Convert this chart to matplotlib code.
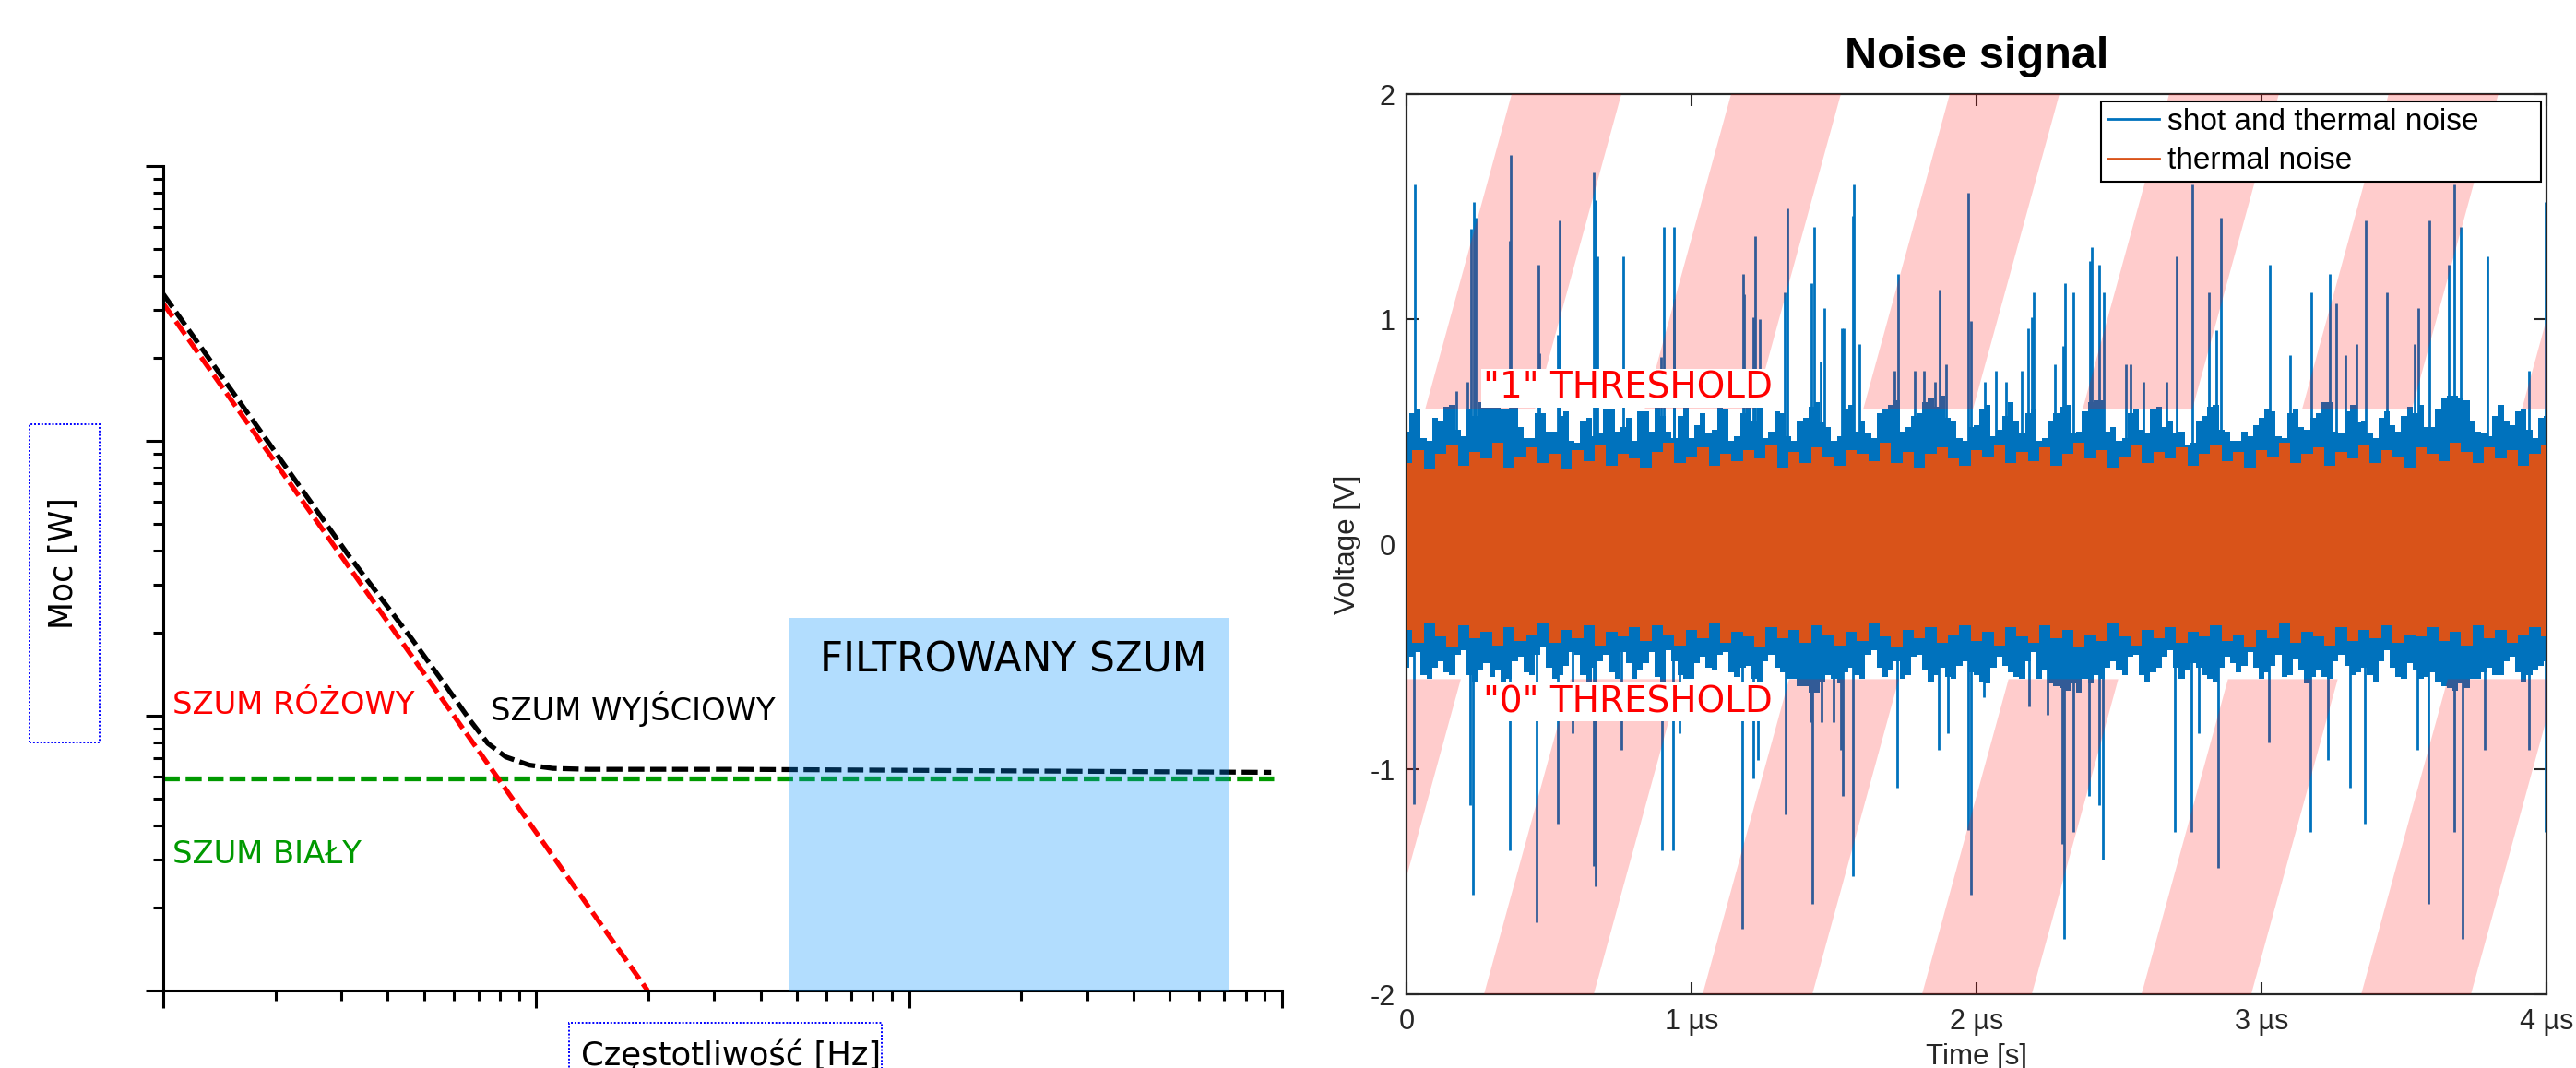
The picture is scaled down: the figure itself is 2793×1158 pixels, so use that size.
import numpy as np
import matplotlib
matplotlib.use('Agg')
import matplotlib.pyplot as plt
from matplotlib.lines import Line2D
from matplotlib.patches import Rectangle, Polygon

# ---------- left chart: noise spectrum sketch (log-log, no units) ----------
pink_f = [1, 19.9]
pink_p = [316, 1]
white_f = [1, 950]
white_p = [5.92, 5.92]
out_f = [1, 3.11, 4.63, 5.78, 6.66, 7.42, 8.29, 9.59, 11.1, 13.8, 34.8, 935]
out_p = [342, 39.0, 19.1, 12.6, 9.59, 7.93, 7.08, 6.61, 6.43, 6.38, 6.38, 6.22]
filter_band = [47.5, 723]
filter_top = 22.7

# ---------- right chart: noise signal (time in us, voltage in V) ----------
# envelope of the dense blue trace, one value every 0.02 us
blue_step = 0.02
blue_hi = [0.50, 0.58, 0.60, 0.47, 0.46, 0.56, 0.55, 0.61, 0.62, 0.51,
           0.48, 0.60, 0.57, 0.63, 0.61, 0.64, 0.63, 0.60, 0.60, 0.62,
           0.52, 0.47, 0.47, 0.58, 0.58, 0.50, 0.50, 0.57, 0.59, 0.46,
           0.45, 0.55, 0.56, 0.48, 0.49, 0.60, 0.60, 0.50, 0.52, 0.56,
           0.46, 0.59, 0.59, 0.50, 0.62, 0.57, 0.50, 0.47, 0.57, 0.61,
           0.47, 0.53, 0.58, 0.49, 0.51, 0.62, 0.60, 0.46, 0.48, 0.58,
           0.61, 0.55, 0.62, 0.47, 0.50, 0.59, 0.58, 0.48, 0.46, 0.55,
           0.56, 0.61, 0.63, 0.54, 0.52, 0.46, 0.48, 0.60, 0.62, 0.50,
           0.55, 0.49, 0.47, 0.58, 0.60, 0.62, 0.64, 0.50, 0.52, 0.57,
           0.58, 0.63, 0.65, 0.61, 0.66, 0.56, 0.55, 0.47, 0.46, 0.52,
           0.53, 0.60, 0.62, 0.48, 0.51, 0.57, 0.63, 0.55, 0.49, 0.58,
           0.60, 0.46, 0.47, 0.55, 0.58, 0.61, 0.62, 0.49, 0.50, 0.59,
           0.63, 0.64, 0.64, 0.50, 0.52, 0.46, 0.47, 0.58, 0.60, 0.51,
           0.49, 0.60, 0.61, 0.52, 0.55, 0.49, 0.50, 0.44, 0.45, 0.55,
           0.57, 0.61, 0.62, 0.51, 0.50, 0.46, 0.46, 0.50, 0.48, 0.53,
           0.56, 0.60, 0.59, 0.48, 0.47, 0.58, 0.60, 0.52, 0.51, 0.56,
           0.58, 0.63, 0.63, 0.50, 0.49, 0.59, 0.62, 0.54, 0.55, 0.49,
           0.47, 0.56, 0.59, 0.53, 0.50, 0.57, 0.61, 0.58, 0.62, 0.52,
           0.52, 0.60, 0.65, 0.66, 0.66, 0.65, 0.64, 0.55, 0.50, 0.49,
           0.48, 0.57, 0.62, 0.55, 0.53, 0.59, 0.60, 0.51, 0.47, 0.56,
           0.57]
blue_lo = [-0.55, -0.50, -0.48, -0.58, -0.60, -0.55, -0.52, -0.57, -0.58, -0.49,
           -0.47, -0.58, -0.61, -0.56, -0.53, -0.59, -0.56, -0.61, -0.60, -0.52,
           -0.50, -0.57, -0.58, -0.49, -0.46, -0.55, -0.60, -0.58, -0.54, -0.48,
           -0.49, -0.58, -0.61, -0.55, -0.52, -0.49, -0.57, -0.60, -0.48, -0.53,
           -0.60, -0.56, -0.53, -0.48, -0.59, -0.61, -0.47, -0.52, -0.58, -0.60,
           -0.60, -0.53, -0.50, -0.55, -0.56, -0.49, -0.48, -0.57, -0.59, -0.55,
           -0.54, -0.60, -0.61, -0.52, -0.49, -0.55, -0.57, -0.60, -0.60, -0.63,
           -0.63, -0.66, -0.66, -0.61, -0.58, -0.60, -0.62, -0.57, -0.55, -0.58,
           -0.60, -0.49, -0.47, -0.55, -0.59, -0.56, -0.52, -0.60, -0.58, -0.50,
           -0.49, -0.56, -0.61, -0.58, -0.55, -0.59, -0.60, -0.54, -0.52, -0.57,
           -0.58, -0.61, -0.62, -0.55, -0.50, -0.54, -0.57, -0.59, -0.60, -0.52,
           -0.48, -0.60, -0.56, -0.62, -0.63, -0.64, -0.65, -0.62, -0.66, -0.60,
           -0.62, -0.58, -0.60, -0.55, -0.52, -0.56, -0.58, -0.50, -0.49, -0.58,
           -0.61, -0.57, -0.55, -0.50, -0.47, -0.55, -0.60, -0.56, -0.53, -0.55,
           -0.58, -0.60, -0.61, -0.55, -0.50, -0.53, -0.57, -0.54, -0.48, -0.55,
           -0.60, -0.57, -0.54, -0.49, -0.59, -0.58, -0.51, -0.56, -0.62, -0.59,
           -0.56, -0.59, -0.60, -0.52, -0.49, -0.54, -0.58, -0.57, -0.55, -0.58,
           -0.61, -0.52, -0.47, -0.55, -0.59, -0.60, -0.53, -0.56, -0.60, -0.59,
           -0.57, -0.61, -0.63, -0.64, -0.65, -0.62, -0.64, -0.60, -0.60, -0.57,
           -0.55, -0.58, -0.58, -0.52, -0.50, -0.57, -0.61, -0.58, -0.56, -0.54,
           -0.52]
# envelope of the orange trace, one value every 0.04 us
orange_step = 0.04
orange_hi = [0.36, 0.42, 0.33, 0.40, 0.44, 0.35, 0.41, 0.38, 0.45, 0.34, 0.39,
             0.43, 0.36, 0.40, 0.33, 0.42, 0.37, 0.44, 0.35, 0.40, 0.38,
             0.34, 0.41, 0.45, 0.36, 0.39, 0.43, 0.35, 0.40, 0.37, 0.42,
             0.38, 0.44, 0.34, 0.41, 0.36, 0.43, 0.39, 0.35, 0.42, 0.40,
             0.37, 0.45, 0.36, 0.41, 0.34, 0.40, 0.43, 0.38, 0.35, 0.42,
             0.39, 0.44, 0.36, 0.41, 0.37, 0.43, 0.35, 0.40, 0.45, 0.38,
             0.42, 0.34, 0.39, 0.44, 0.36, 0.41, 0.38, 0.43, 0.35, 0.40,
             0.44, 0.37, 0.41, 0.34, 0.42, 0.39, 0.45, 0.36, 0.40, 0.43,
             0.35, 0.41, 0.38, 0.44, 0.36, 0.42, 0.39, 0.34, 0.43, 0.40,
             0.37, 0.45, 0.41, 0.36, 0.43, 0.38, 0.42, 0.35, 0.40, 0.44]
orange_lo = [-0.38, -0.44, -0.35, -0.41, -0.46, -0.36, -0.42, -0.39, -0.45, -0.37, -0.43,
             -0.40, -0.35, -0.44, -0.38, -0.42, -0.36, -0.45, -0.39, -0.41, -0.37,
             -0.43, -0.36, -0.40, -0.45, -0.38, -0.42, -0.35, -0.44, -0.39, -0.41,
             -0.46, -0.37, -0.42, -0.38, -0.44, -0.36, -0.40, -0.45, -0.39, -0.43,
             -0.35, -0.41, -0.46, -0.38, -0.42, -0.37, -0.44, -0.40, -0.36, -0.43,
             -0.39, -0.45, -0.37, -0.41, -0.44, -0.36, -0.42, -0.38, -0.46, -0.40,
             -0.43, -0.35, -0.41, -0.45, -0.38, -0.42, -0.37, -0.44, -0.39, -0.41,
             -0.36, -0.43, -0.40, -0.46, -0.38, -0.42, -0.35, -0.44, -0.39, -0.41,
             -0.45, -0.37, -0.43, -0.38, -0.42, -0.36, -0.44, -0.40, -0.41, -0.37,
             -0.43, -0.39, -0.45, -0.36, -0.42, -0.38, -0.44, -0.40, -0.37, -0.41]

# shot-noise spikes above / below the band: (time, peak voltage)
up_spikes = [(0.029, 1.60), (0.176, 0.68), (0.215, 0.72), (0.228, 1.40), (0.235, 1.52),
             (0.244, 1.45), (0.361, 1.35), (0.367, 1.73), (0.462, 1.24), (0.467, 0.85),
             (0.530, 0.93), (0.536, 1.44), (0.657, 1.65), (0.662, 1.53), (0.670, 1.28),
             (0.760, 1.28), (0.894, 0.83), (0.904, 1.41), (0.937, 1.09), (0.939, 1.41),
             (1.180, 1.20), (1.183, 1.11), (1.218, 1.01), (1.222, 1.37), (1.238, 1.00),
             (1.328, 1.12), (1.335, 1.49), (1.420, 1.16), (1.429, 1.41), (1.453, 0.81),
             (1.466, 1.05), (1.527, 0.96), (1.535, 0.96), (1.566, 1.46), (1.570, 1.60),
             (1.589, 0.89), (1.712, 0.77), (1.726, 1.20), (1.784, 0.77), (1.817, 0.77),
             (1.855, 0.72), (1.871, 1.13), (1.894, 0.80), (1.972, 1.56), (1.979, 0.99),
             (2.029, 0.72), (2.069, 0.77), (2.105, 0.72), (2.159, 0.77), (2.181, 0.96),
             (2.194, 1.01), (2.201, 1.12), (2.274, 0.80), (2.305, 0.88), (2.311, 1.16),
             (2.341, 1.12), (2.397, 1.26), (2.404, 1.32), (2.430, 1.24), (2.445, 1.12),
             (2.524, 0.80), (2.540, 0.80), (2.585, 0.72), (2.666, 0.72), (2.702, 1.28),
             (2.757, 1.60), (2.817, 1.12), (2.842, 0.95), (2.857, 1.45), (3.030, 1.24),
             (3.099, 0.84), (3.176, 1.12), (3.238, 1.20), (3.261, 1.07), (3.294, 0.84),
             (3.333, 0.89), (3.365, 1.44), (3.440, 1.12), (3.537, 0.89), (3.550, 1.05),
             (3.589, 1.44), (3.658, 1.24), (3.676, 1.60), (3.700, 1.41), (3.794, 1.28),
             (3.940, 0.77), (3.998, 1.52)]
down_spikes = [(0.027, -1.155), (0.224, -1.16), (0.233, -1.557), (0.361, -1.36), (0.456, -1.68),
               (0.530, -1.24), (0.582, -0.84), (0.657, -1.43), (0.662, -1.52), (0.753, -0.915),
               (0.896, -1.36), (0.935, -1.36), (0.959, -0.84), (1.177, -1.71), (1.218, -1.04),
               (1.234, -0.96), (1.329, -1.20), (1.417, -0.79), (1.424, -1.60), (1.456, -0.79),
               (1.498, -0.79), (1.524, -0.915), (1.530, -1.12), (1.567, -1.475), (1.723, -1.08),
               (1.866, -0.915), (1.900, -0.84), (1.972, -1.27), (1.981, -1.557), (2.027, -0.68),
               (2.185, -0.72), (2.248, -0.76), (2.300, -1.33), (2.309, -1.755), (2.339, -1.28),
               (2.396, -1.12), (2.430, -1.16), (2.443, -1.40), (2.696, -1.28), (2.754, -1.28),
               (2.780, -0.84), (2.848, -1.44), (3.026, -0.88), (3.173, -1.28), (3.232, -0.96),
               (3.312, -1.08), (3.361, -1.24), (3.546, -0.915), (3.586, -1.60), (3.677, -1.28),
               (3.706, -1.755), (3.784, -0.915), (3.937, -0.915), (3.998, -1.28)]

threshold = 0.6
stripe_starts = [-0.498, 0.272, 1.039, 1.809, 2.579, 3.350, 4.12]
stripe_width = 0.385
stripe_shift = 0.867

BLUE = '#0072BD'
ORANGE = '#D95319'
GREY = '#262626'
HELV = 'Liberation Sans'

fig = plt.figure(figsize=(27.93, 11.58), dpi=100)

# ================= left chart =================
ax = fig.add_axes([177 / 2793, 84 / 1158, 1213 / 2793, 894 / 1158])
ax.set_xscale('log')
ax.set_yscale('log')
ax.set_xlim(1, 1000)
ax.set_ylim(1, 1000)

dash = (0, (3.3, 1.2))
ax.plot(white_f, white_p, color='#009900', lw=3.8, ls=dash, zorder=2)
ax.plot(pink_f, pink_p, color='#ff0000', lw=3.8, ls=dash, zorder=2)
ax.plot(out_f, out_p, color='black', lw=3.8, ls=dash, zorder=2)
# the filtered band is translucent and sits on top of the lines
ax.fill_between(filter_band, 1, filter_top, color='#008ffc', alpha=0.3, lw=0, zorder=3)

for s in ['top', 'right']:
    ax.spines[s].set_visible(False)
for s in ['left', 'bottom']:
    ax.spines[s].set_linewidth(2.2)
ax.tick_params(which='major', direction='out', length=13.7, width=2.2,
               labelbottom=False, labelleft=False)
ax.tick_params(which='minor', direction='out', length=8, width=2.2,
               labelbottom=False, labelleft=False)

ax.text(0.0082, 0.3356, 'SZUM RÓŻOWY', transform=ax.transAxes, color='#ff0000',
        fontsize=24.3, va='baseline', ha='left')
ax.text(0.2927, 0.3272, 'SZUM WYJŚCIOWY', transform=ax.transAxes, color='black',
        fontsize=24.3, va='baseline', ha='left')
ax.text(0.0082, 0.1544, 'SZUM BIAŁY', transform=ax.transAxes, color='#009900',
        fontsize=24.3, va='baseline', ha='left')
ax.text(0.5871, 0.3870, 'FILTROWANY SZUM', transform=ax.transAxes, color='black',
        fontsize=31.5, va='baseline', ha='left', zorder=4)

# axis titles in dotted blue frames
fig.add_artist(Rectangle((32 / 2793, (1158 - 805) / 1158), 76 / 2793, 345 / 1158,
                         transform=fig.transFigure, fill=False, edgecolor='#0000ff',
                         lw=1.4, ls=(0, (1, 1))))
fig.text(69 / 2793, (1158 - 611) / 1158, 'Moc [W]', rotation=90, fontsize=25,
         ha='center', va='center')
fig.add_artist(Rectangle((617 / 2793, -0.02), 339 / 2793, 0.02 + 49 / 1158,
                         transform=fig.transFigure, fill=False, edgecolor='#0000ff',
                         lw=1.4, ls=(0, (1, 1))))
fig.text(630 / 2793, 3 / 1158, 'Częstotliwość [Hz]', fontsize=25.5,
         ha='left', va='baseline')

# ================= right chart =================
ax2 = fig.add_axes([1525 / 2793, 80 / 1158, 1236 / 2793, 976 / 1158])
t_blue = np.arange(len(blue_hi)) * blue_step
t_orange = np.arange(len(orange_hi)) * orange_step

ax2.fill_between(t_blue, blue_lo, blue_hi, step='mid', color=BLUE, lw=0, zorder=2)
ax2.vlines([p[0] for p in up_spikes], 0, [p[1] for p in up_spikes],
           color=BLUE, lw=2.0, zorder=2)
ax2.vlines([p[0] for p in down_spikes], [p[1] for p in down_spikes], 0,
           color=BLUE, lw=2.0, zorder=2)
ax2.fill_between(t_orange, orange_lo, orange_hi, step='mid', color=ORANGE, lw=0, zorder=3)

# slanted translucent stripes outside the decision band
for b in stripe_starts:
    for v0, v1 in [(threshold, 2), (-2, -threshold)]:
        x0 = b + stripe_shift * (v0 + 2) / 4
        x1 = b + stripe_shift * (v1 + 2) / 4
        ax2.add_patch(Polygon([(x0, v0), (x0 + stripe_width, v0),
                               (x1 + stripe_width, v1), (x1, v1)],
                              closed=True, facecolor='red', alpha=0.2, lw=0, zorder=4))

box = dict(facecolor='white', edgecolor='none', boxstyle='square,pad=0.05')
ax2.text(0.269, 0.648, '"1" THRESHOLD', color='red', fontsize=28,
         va='baseline', ha='left', bbox=box, zorder=6)
ax2.text(0.269, -0.746, '"0" THRESHOLD', color='red', fontsize=28,
         va='baseline', ha='left', bbox=box, zorder=6)

ax2.set_xlim(0, 4)
ax2.set_ylim(-2, 2)
ax2.set_xticks([0, 1, 2, 3, 4])
ax2.set_xticklabels(['0', '1 µs', '2 µs', '3 µs', '4 µs'], fontfamily=HELV, fontsize=22)
ax2.set_yticks([-2, -1, 0, 1, 2])
ax2.set_yticklabels(['-2', '-1', '0', '1', '2'], fontfamily=HELV, fontsize=22)
ax2.tick_params(axis='both', direction='in', length=9.4, width=1.5, top=True, right=True,
                color=GREY, labelcolor=GREY)
ax2.tick_params(axis='x', pad=11)
ax2.tick_params(axis='y', pad=9)
for s in ax2.spines.values():
    s.set_color(GREY)
    s.set_linewidth(1.6)

ax2.set_title('Noise signal', fontsize=35, fontweight='bold', fontfamily=HELV, pad=20)
ax2.set_xlabel('Time [s]', fontsize=22.5, fontfamily=HELV, color=GREY)
ax2.xaxis.set_label_coords(0.5, -0.0543)
ax2.set_ylabel('Voltage [V]', fontsize=22.5, fontfamily=HELV, color=GREY)
ax2.yaxis.set_label_coords(-0.0396, 0.5)

handles = [Line2D([], [], color=BLUE, lw=2), Line2D([], [], color=ORANGE, lw=2)]
leg = ax2.legend(handles, ['shot and thermal noise', 'thermal noise'],
                 loc='upper left', bbox_to_anchor=(0.6092, 0.5, 0.386, 0.4918),
                 mode='expand', borderaxespad=0, fancybox=False, framealpha=1,
                 edgecolor='black', handlelength=1.7, handletextpad=0.27,
                 borderpad=0.2, labelspacing=0.35,
                 prop={'family': HELV, 'size': 24})
leg.get_frame().set_linewidth(1.5)
leg.set_zorder(10)

fig.savefig('out.png', dpi=100)
